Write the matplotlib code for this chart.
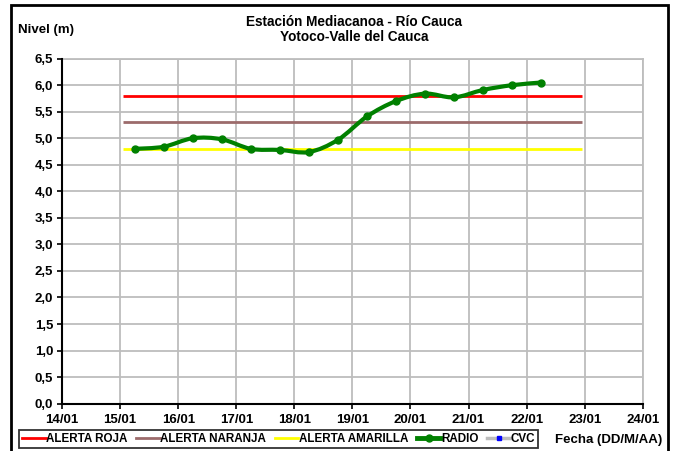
import matplotlib
matplotlib.use("Agg")
import matplotlib.pyplot as plt
from matplotlib.path import Path
from matplotlib.patches import PathPatch, Rectangle
from matplotlib.lines import Line2D
import numpy as np

plt.rcParams['font.family'] = ['Liberation Sans', 'DejaVu Sans']
plt.rcParams['font.weight'] = 'bold'

# fechas en dias de enero (14.0 = 14/01 00:00)
dias_ticks = [14, 15, 16, 17, 18, 19, 20, 21, 22, 23, 24]
etiquetas_x = ['14/01', '15/01', '16/01', '17/01', '18/01', '19/01',
               '20/01', '21/01', '22/01', '23/01', '24/01']

radio_dias = [15.25, 15.75, 16.25, 16.75, 17.25, 17.75, 18.25, 18.75,
              19.25, 19.75, 20.25, 20.75, 21.25, 21.75, 22.25]
radio_nivel = [4.80, 4.84, 5.00, 4.98, 4.80, 4.78, 4.74, 4.97,
               5.41, 5.70, 5.84, 5.77, 5.91, 6.00, 6.05]

alerta_dias = [15.05, 22.95]
alerta_roja = 5.8
alerta_naranja = 5.3
alerta_amarilla = 4.8

c_roja = '#ff0000'
c_naranja = '#9c6b6b'
c_amarilla = '#ffff00'
c_radio = '#008000'
c_grid = '#bdbdbd'


def smooth_path(xs, ys):
    # curva suavizada tipo Excel (Bezier por tramos)
    p = np.column_stack([xs, ys])
    n = len(p)
    verts = [p[0]]
    codes = [Path.MOVETO]
    for i in range(n - 1):
        p0 = p[i - 1] if i > 0 else p[i]
        p3 = p[i + 2] if i + 2 < n else p[i + 1]
        c1 = p[i] + (p[i + 1] - p0) / 6
        c2 = p[i + 1] - (p3 - p[i]) / 6
        verts += [c1, c2, p[i + 1]]
        codes += [Path.CURVE4] * 3
    return Path(verts, codes)


fig = plt.figure(figsize=(6.78, 4.51), dpi=100)
ax = fig.add_axes([0.0916, 0.105, 0.8564, 0.765])

ax.plot(alerta_dias, [alerta_roja] * 2, color=c_roja, lw=2.0, solid_capstyle='butt')
ax.plot(alerta_dias, [alerta_naranja] * 2, color=c_naranja, lw=2.0, solid_capstyle='butt')
ax.plot(alerta_dias, [alerta_amarilla] * 2, color=c_amarilla, lw=2.0, solid_capstyle='butt')

ax.add_patch(PathPatch(smooth_path(radio_dias, radio_nivel), fill=False,
                       edgecolor=c_radio, lw=3.0, capstyle='round', joinstyle='round', zorder=4))
ax.plot(radio_dias, radio_nivel, 'o', color=c_radio, ms=5, zorder=5)

ax.set_xlim(14, 24)
ax.set_ylim(0, 6.5)
ax.set_xticks(dias_ticks, etiquetas_x)
yt = np.arange(0, 6.51, 0.5)
ax.set_yticks(yt, [f'{v:.1f}'.replace('.', ',') for v in yt])
ax.tick_params(axis='both', labelsize=9.5, length=3.5, width=1.2, color='black')
ax.tick_params(axis='x', pad=4)
ax.tick_params(axis='y', pad=3)
for lab in ax.get_xticklabels() + ax.get_yticklabels():
    lab.set_fontweight('bold')

ax.grid(True, color=c_grid, lw=1.3)
ax.set_axisbelow(True)
for s in ['left', 'bottom']:
    ax.spines[s].set_linewidth(1.5)
    ax.spines[s].set_zorder(6)
for s in ['top', 'right']:
    ax.spines[s].set_color(c_grid)
    ax.spines[s].set_linewidth(1.3)

fig.text(0.522, 0.951, 'Estación Mediacanoa - Río Cauca', ha='center', va='center',
         fontsize=9.8, fontweight='bold')
fig.text(0.522, 0.917, 'Yotoco-Valle del Cauca', ha='center', va='center',
         fontsize=9.8, fontweight='bold')
fig.text(0.026, 0.933, 'Nivel (m)', ha='left', va='center', fontsize=9.5, fontweight='bold')
fig.text(0.977, 0.024, 'Fecha (DD/M/AA)', ha='right', va='center', fontsize=9.5, fontweight='bold')

handles = [
    Line2D([], [], color=c_roja, lw=2),
    Line2D([], [], color=c_naranja, lw=2),
    Line2D([], [], color=c_amarilla, lw=2),
    Line2D([], [], color=c_radio, lw=3.5, marker='o', ms=5),
    Line2D([], [], color=c_grid, lw=2.5, marker='s', ms=3, mfc='#0000ff', mec='#0000ff'),
]
labels = ['ALERTA ROJA', 'ALERTA NARANJA', 'ALERTA AMARILLA', 'RADIO', 'CVC']
leg = fig.legend(handles, labels, loc='center left', bbox_to_anchor=(0.0285, 0.027),
                 ncol=5, frameon=True, fancybox=False, handlelength=2.0,
                 handletextpad=0.05, columnspacing=0.75, borderpad=0.25,
                 borderaxespad=0, prop={'weight': 'bold', 'size': 8.4})
leg.get_frame().set_edgecolor('black')
leg.get_frame().set_linewidth(1.3)

fig.patches.append(Rectangle((0.016, -0.05), 0.969, 1.039, transform=fig.transFigure,
                             fill=False, edgecolor='black', lw=2.0))

fig.savefig('out.png', dpi=100)
